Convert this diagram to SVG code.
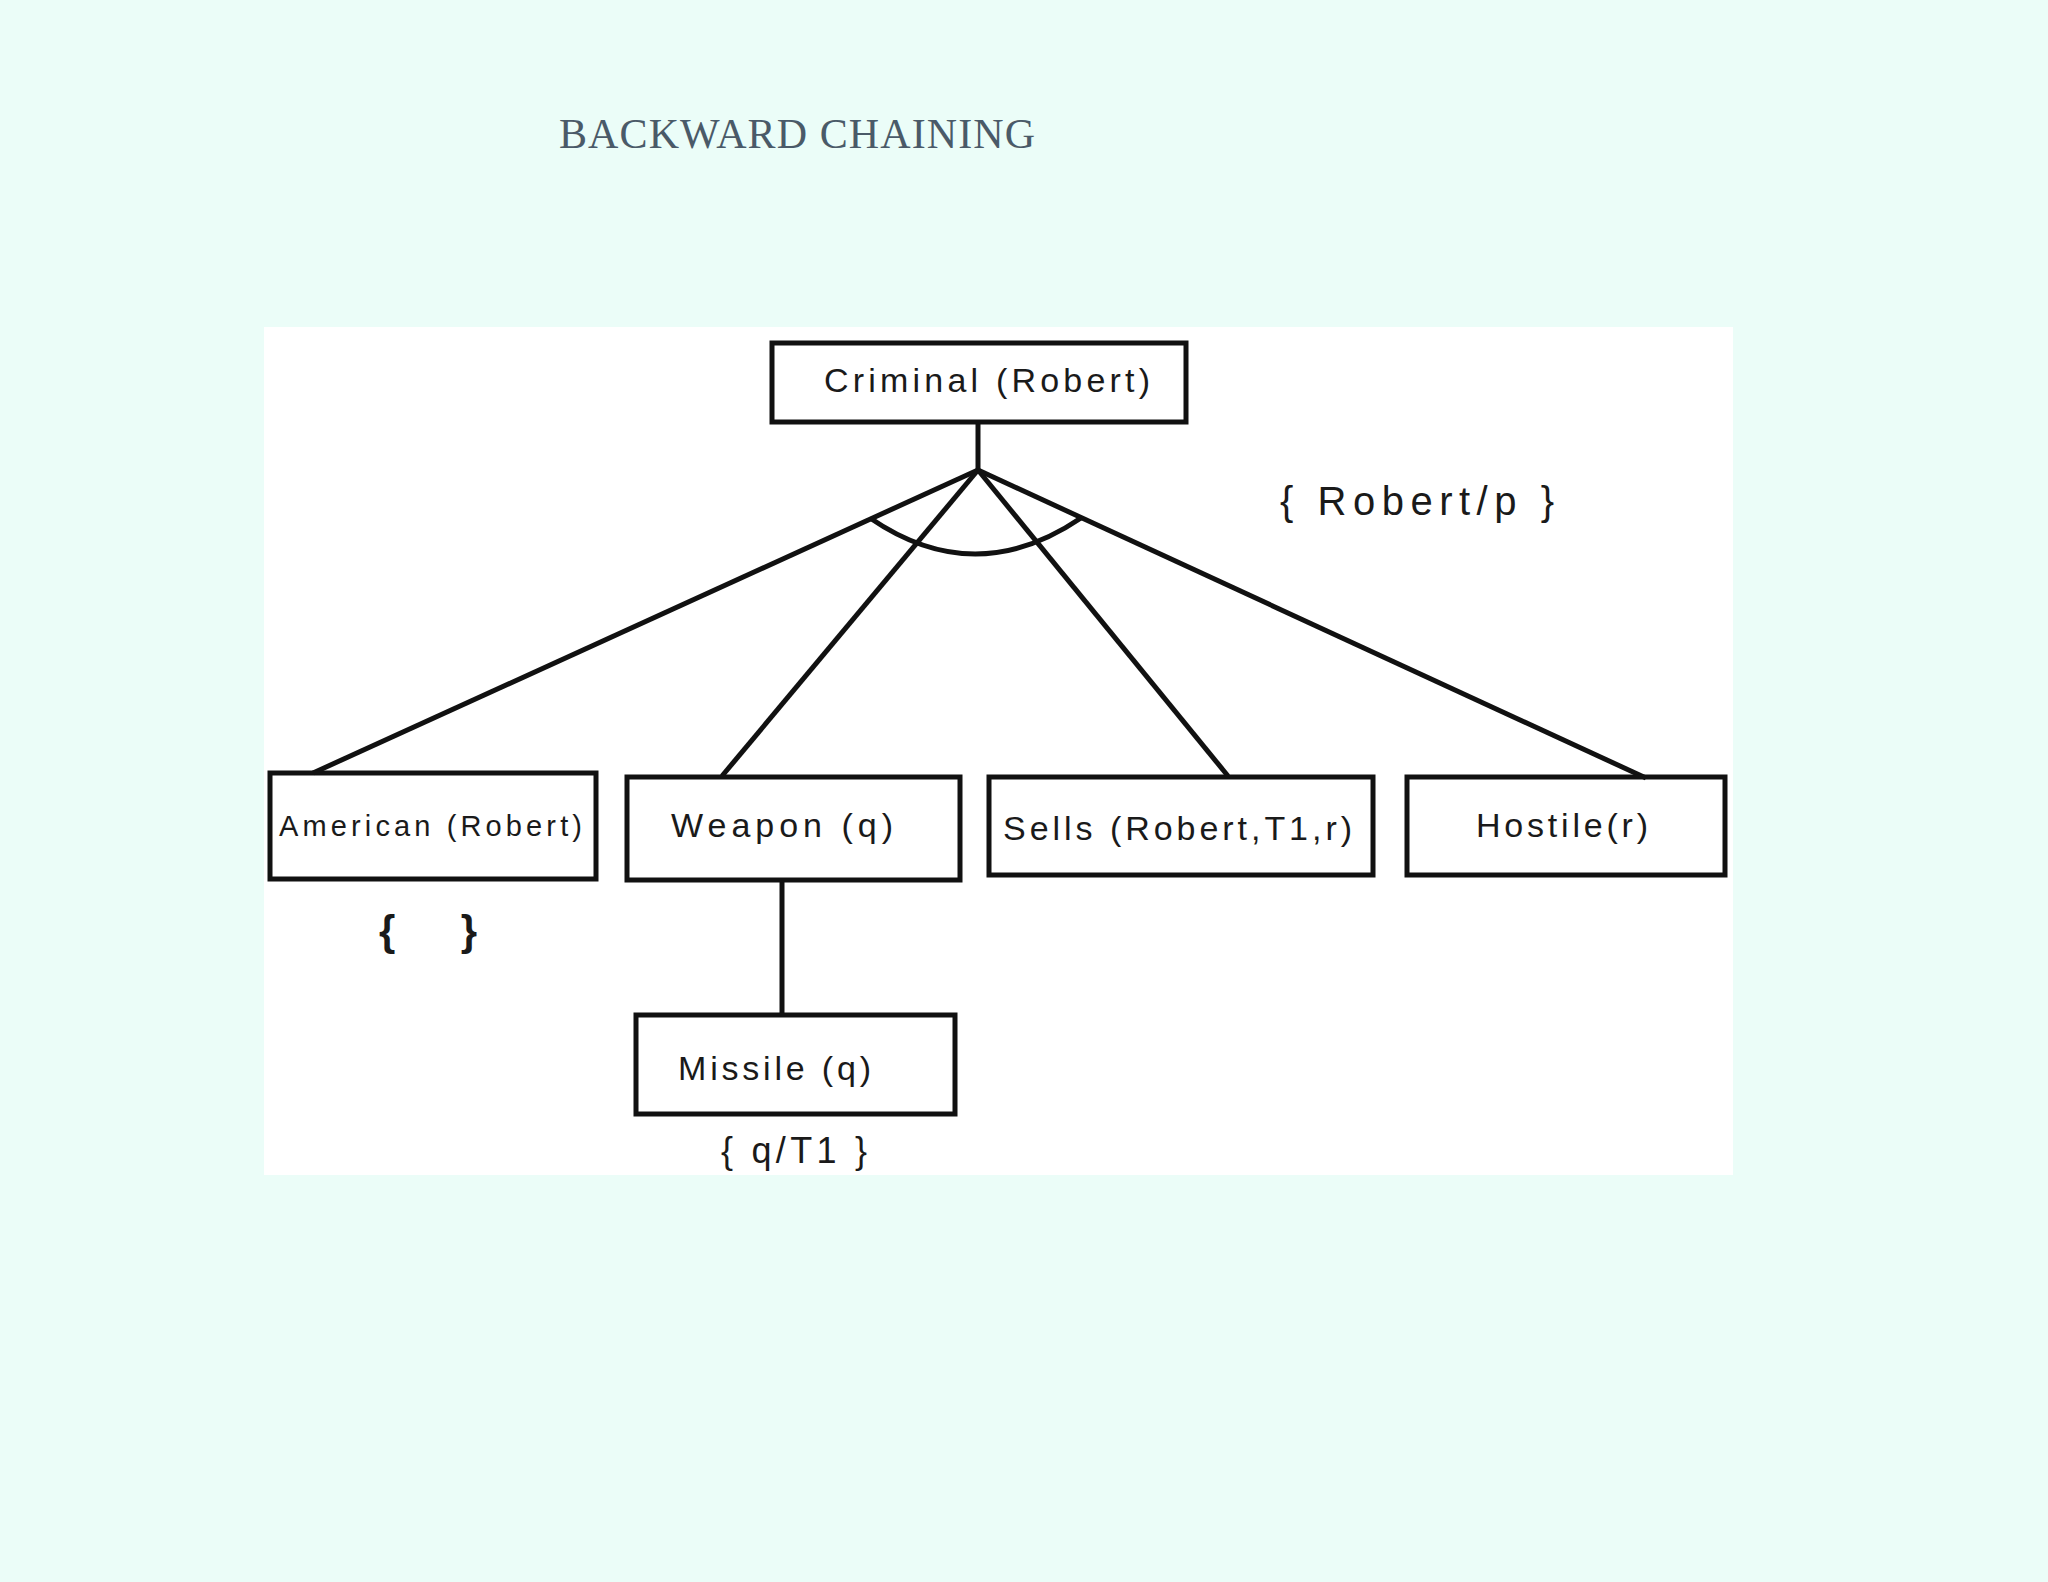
<svg xmlns="http://www.w3.org/2000/svg" width="2048" height="1582" viewBox="0 0 2048 1582">
<style>
.b{fill:none;stroke:#111;stroke-width:5}
.t{font-family:"Liberation Sans",Arial,sans-serif;fill:#1a1a1a}
</style>
<rect width="2048" height="1582" fill="#ebfdf8"/>
<text x="559" y="148" font-family="Liberation Serif,serif" font-size="42" fill="#4a5a68" textLength="476">BACKWARD CHAINING</text>
<rect x="264" y="327" width="1469" height="848" fill="#fff"/>
<g id="connectors" class="b">
<line x1="978" y1="422" x2="978" y2="470"/>
<line x1="978" y1="470" x2="313" y2="773"/>
<line x1="978" y1="470" x2="722" y2="776"/>
<line x1="978" y1="470" x2="1228" y2="776"/>
<line x1="978" y1="470" x2="1646" y2="778"/>
<path d="M870 518 Q975 590 1081 518"/>
<line x1="782" y1="880" x2="782" y2="1015"/>
</g>
<g id="criminal"><rect class="b" x="772" y="343" width="414" height="79"/><text class="t" x="824" y="392" font-size="34" textLength="326">Criminal (Robert)</text></g>
<g id="american"><rect class="b" x="270" y="773" width="326" height="106"/><text class="t" x="279" y="836" font-size="29" textLength="303">American (Robert)</text></g>
<g id="weapon"><rect class="b" x="627" y="777" width="333" height="103"/><text class="t" x="671" y="837" font-size="34" textLength="222">Weapon (q)</text></g>
<g id="sells"><rect class="b" x="989" y="777" width="384" height="98"/><text class="t" x="1003" y="840" font-size="34" textLength="349">Sells (Robert,T1,r)</text></g>
<g id="hostile"><rect class="b" x="1407" y="777" width="318" height="98"/><text class="t" x="1476" y="837" font-size="34" textLength="172">Hostile(r)</text></g>
<g id="missile"><rect class="b" x="636" y="1015" width="319" height="99"/><text class="t" x="678" y="1080" font-size="34" textLength="193">Missile (q)</text></g>
<text class="t" x="1280" y="515" font-size="40" textLength="274">{ Robert/p }</text>
<text class="t" x="379" y="945" font-size="42" font-weight="bold" textLength="98">{ }</text>
<text class="t" x="721" y="1163" font-size="36" textLength="146">{ q/T1 }</text>
</svg>
